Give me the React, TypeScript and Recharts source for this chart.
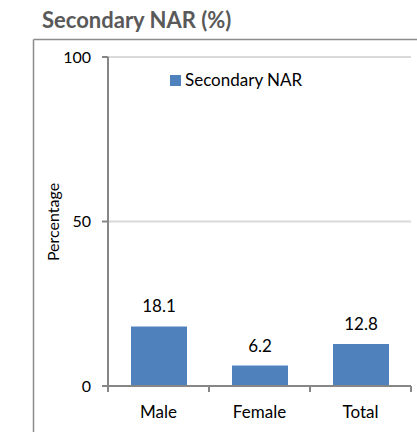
import { BarChart, Bar, XAxis, YAxis, CartesianGrid, LabelList } from 'recharts';

const categories = ['Male', 'Female', 'Total'];
const narValues = [18.1, 6.2, 12.8];
const yTicks = [0, 50, 100];

const data = categories.map((name, i) => ({ name, nar: narValues[i] }));

const FONT = 'Lato, "Open Sans", sans-serif';
const AXIS = '#868686';
const BLUE = '#4F81BD';

const W = 417;
const H = 432;
const X_HEIGHT = 30;
const Y_WIDTH = 60;
const MARGIN = { top: 57, right: 6, bottom: 46 - X_HEIGHT, left: 48 };
const BAND = (W - MARGIN.left - Y_WIDTH - MARGIN.right) / categories.length;

// excel style: ticks sit between the categories
const CategoryTick = ({ x, y, payload, index }: any) => (
  <g>
    <line x1={x - BAND / 2} x2={x - BAND / 2} y1={y} y2={y + 6} stroke={AXIS} strokeWidth={2} />
    {index === categories.length - 1 && (
      <line x1={x + BAND / 2} x2={x + BAND / 2} y1={y} y2={y + 6} stroke={AXIS} strokeWidth={2} />
    )}
    <text x={x} y={y + 32} textAnchor="middle" fontSize={17} fontFamily={FONT} fill="#000">
      {payload.value}
    </text>
  </g>
);

export default function App() {
  return (
    <div style={{ position: 'absolute', left: 0, top: 0, width: W, height: H, overflow: 'hidden', background: '#fff' }}>
      <svg width={W} height={H} style={{ position: 'absolute', left: 0, top: 0 }}>
        <text x={42} y={28} fontSize={22} fontWeight="bold" fontFamily={FONT} fill="#595959">
          Secondary NAR (%)
        </text>
        <line x1={33.5} x2={33.5} y1={39.5} y2={H} stroke="#8c8c8c" strokeWidth={1.5} />
        <line x1={33.5} x2={W} y1={39.5} y2={39.5} stroke="#8c8c8c" strokeWidth={1.5} />
        <text
          x={0}
          y={0}
          transform="translate(59,222) rotate(-90)"
          textAnchor="middle"
          fontSize={16}
          fontFamily={FONT}
          fill="#000"
        >
          Percentage
        </text>
      </svg>
      <div style={{ position: 'absolute', left: 0, top: 0 }}>
        <BarChart width={W} height={H} data={data} margin={MARGIN}>
          <CartesianGrid vertical={false} stroke="#d9d9d9" strokeWidth={2} />
          <XAxis
            dataKey="name"
            height={X_HEIGHT}
            axisLine={{ stroke: AXIS, strokeWidth: 2 }}
            tickLine={false}
            tickSize={0}
            tickMargin={0}
            tick={<CategoryTick />}
            interval={0}
          />
          <YAxis
            width={Y_WIDTH}
            domain={[0, 100]}
            ticks={yTicks}
            axisLine={{ stroke: AXIS, strokeWidth: 2 }}
            tickLine={{ stroke: AXIS, strokeWidth: 2 }}
            tickSize={6}
            tickMargin={11}
            tick={{ fontSize: 16, fontFamily: FONT, fill: '#000' }}
          />
          <Bar dataKey="nar" fill={BLUE} barSize={56} isAnimationActive={false}>
            <LabelList
              dataKey="nar"
              position="top"
              offset={14}
              fontSize={17}
              fontFamily={FONT}
              fill="#000"
            />
          </Bar>
        </BarChart>
      </div>
      <div
        style={{
          position: 'absolute',
          left: 170,
          top: 70,
          display: 'flex',
          alignItems: 'center',
          fontFamily: FONT,
          fontSize: 17,
          color: '#000',
          lineHeight: '20px',
        }}
      >
        <span style={{ width: 11, height: 11, background: BLUE, marginRight: 4, display: 'inline-block' }} />
        Secondary NAR
      </div>
    </div>
  );
}
